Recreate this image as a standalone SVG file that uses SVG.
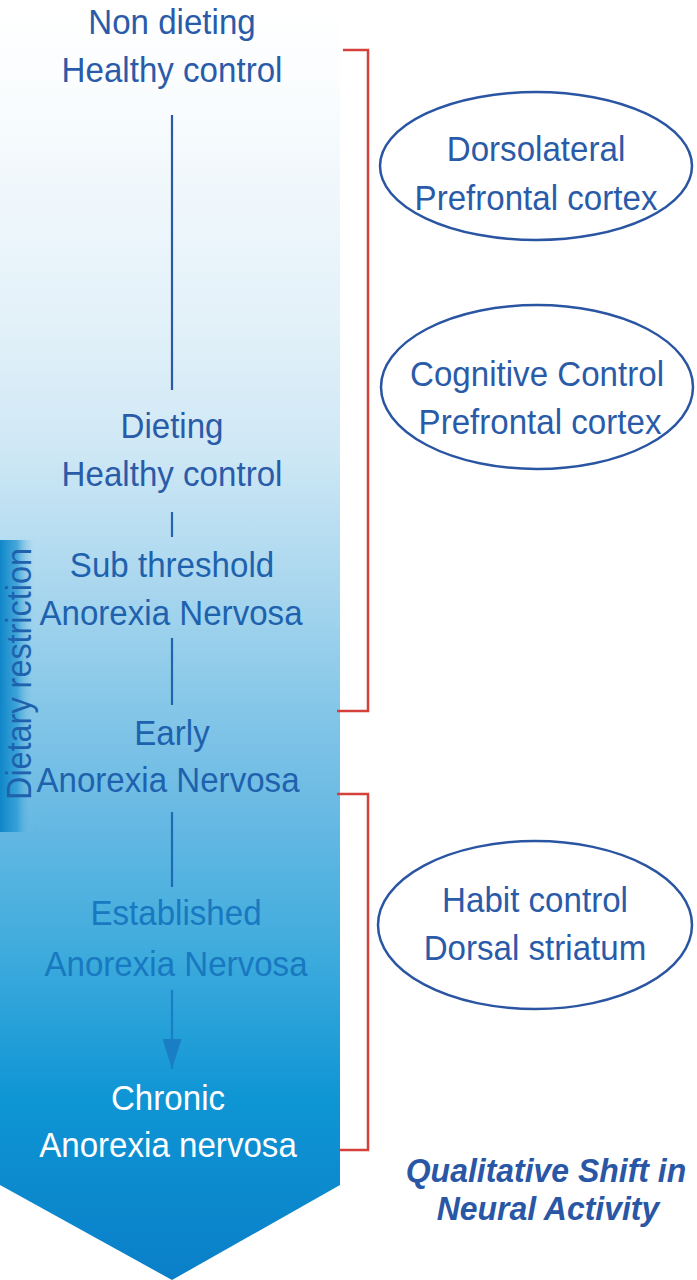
<svg xmlns="http://www.w3.org/2000/svg" width="697" height="1280" viewBox="0 0 697 1280">
<defs>
<linearGradient id="body" x1="0" y1="0" x2="0" y2="1280" gradientUnits="userSpaceOnUse">
<stop offset="0" stop-color="#ffffff"/>
<stop offset="0.06" stop-color="#fbfdfe"/>
<stop offset="0.25" stop-color="#e3f1f9"/>
<stop offset="0.35" stop-color="#cfe8f5"/>
<stop offset="0.45" stop-color="#acd8ef"/>
<stop offset="0.55" stop-color="#86c7e8"/>
<stop offset="0.625" stop-color="#6cbbe4"/>
<stop offset="0.74" stop-color="#40acdd"/>
<stop offset="0.86" stop-color="#0e95d4"/>
<stop offset="1" stop-color="#0a7fc8"/>
</linearGradient>
<linearGradient id="bar" x1="0" y1="0" x2="1" y2="0">
<stop offset="0" stop-color="#0f86c8"/>
<stop offset="0.5" stop-color="#2a9ad4" stop-opacity="0.8"/>
<stop offset="1" stop-color="#8cc9e8" stop-opacity="0"/>
</linearGradient>
<marker id="ah" viewBox="0 0 10 10" refX="10" refY="5" markerWidth="30" markerHeight="19" markerUnits="userSpaceOnUse" orient="auto" preserveAspectRatio="none">
<path d="M0,0 L10,5 L0,10 Z" fill="#1a7ec4"/>
</marker>
</defs>
<style>
.t{font-family:"Liberation Sans",Arial,sans-serif;font-size:36px;text-anchor:middle}
.dk{fill:#2a5ba8}
.md{fill:#1e62ad}
.lt{fill:#1878c0}
.wh{fill:#ffffff}
.ln{stroke-width:2.2;fill:none}
.red{stroke:#d6403a;stroke-width:2.5;fill:none}
.ell{fill:none;stroke:#2a55a2;stroke-width:2.5}
.q{font-family:"Liberation Sans",Arial,sans-serif;font-size:34px;font-weight:bold;font-style:italic;fill:#2a57a5;text-anchor:middle}
</style>
<g id="arrow-body">
<path d="M0,0 H340 V1185 L172,1280 L0,1185 Z" fill="url(#body)"/>
</g>
<g id="dietary-restriction">
<rect x="0" y="540" width="34" height="292" fill="url(#bar)"/>
<text class="t md" transform="translate(31,674) rotate(-90) scale(0.9,1)" font-size="35">Dietary restriction</text>
</g>
<g id="connectors">
<line class="ln" x1="172" y1="115" x2="172" y2="390" stroke="#2a5aa6"/>
<line class="ln" x1="172" y1="512" x2="172" y2="537" stroke="#2563aa"/>
<line class="ln" x1="172" y1="638" x2="172" y2="705" stroke="#2064ac"/>
<line class="ln" x1="172" y1="812" x2="172" y2="887" stroke="#1b6cb4"/>
<line class="ln" x1="172" y1="990" x2="172" y2="1069" stroke="#1a7ec4" marker-end="url(#ah)"/>
<path class="red" d="M343,50 H368 V711 H337"/>
<path class="red" d="M337,794 H368 V1150 H340"/>
</g>
<g id="n-nondieting">
<text class="t dk" transform="translate(172,34) scale(0.92,1)">Non dieting</text>
<text class="t dk" transform="translate(172,82) scale(0.92,1)">Healthy control</text>
</g>
<g id="n-dieting">
<text class="t dk" transform="translate(172,438) scale(0.92,1)">Dieting</text>
<text class="t dk" transform="translate(172,486) scale(0.92,1)">Healthy control</text>
</g>
<g id="n-subthreshold">
<text class="t md" transform="translate(172,577) scale(0.92,1)">Sub threshold</text>
<text class="t md" transform="translate(171,625) scale(0.92,1)">Anorexia Nervosa</text>
</g>
<g id="n-early">
<text class="t md" transform="translate(172,745) scale(0.92,1)">Early</text>
<text class="t md" transform="translate(168,792) scale(0.92,1)">Anorexia Nervosa</text>
</g>
<g id="n-established">
<text class="t lt" transform="translate(176,925) scale(0.92,1)">Established</text>
<text class="t lt" transform="translate(176,976) scale(0.92,1)">Anorexia Nervosa</text>
</g>
<g id="n-chronic">
<text class="t wh" transform="translate(168,1110) scale(0.92,1)">Chronic</text>
<text class="t wh" transform="translate(168,1157) scale(0.92,1)">Anorexia nervosa</text>
</g>
<g id="e-dlpfc">
<ellipse class="ell" cx="536" cy="166" rx="156" ry="74"/>
<text class="t dk" transform="translate(536,161) scale(0.92,1)">Dorsolateral</text>
<text class="t dk" transform="translate(536,210) scale(0.92,1)">Prefrontal cortex</text>
</g>
<g id="e-cognitive">
<ellipse class="ell" cx="537" cy="387" rx="156" ry="82"/>
<text class="t dk" transform="translate(537,386) scale(0.92,1)">Cognitive Control</text>
<text class="t dk" transform="translate(540,434) scale(0.92,1)">Prefrontal cortex</text>
</g>
<g id="e-habit">
<ellipse class="ell" cx="535" cy="925" rx="157" ry="84"/>
<text class="t dk" transform="translate(535,912) scale(0.92,1)">Habit control</text>
<text class="t dk" transform="translate(535,960) scale(0.92,1)">Dorsal striatum</text>
</g>
<g id="caption">
<text class="q" transform="translate(546,1182) scale(0.94,1)">Qualitative Shift in</text>
<text class="q" transform="translate(548,1220) scale(0.94,1)">Neural Activity</text>
</g>
</svg>
